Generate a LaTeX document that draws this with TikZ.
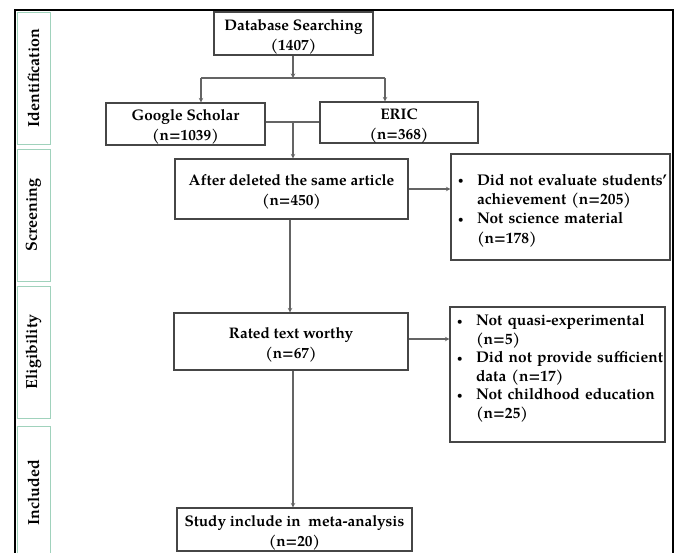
\documentclass[tikz,border=0pt]{standalone}
\usepackage{fontspec}
\setmainfont{texgyrepagella}[Extension=.otf, UprightFont=*-regular, BoldFont=*-bold]
\usetikzlibrary{arrows.meta}
\definecolor{sidegreen}{RGB}{160,210,188}
\definecolor{boxgray}{RGB}{70,70,70}
\definecolor{linegray}{RGB}{100,100,100}
\newcommand{\tstrut}{\rule{0pt}{17pt}}
\newcommand{\exclsetup}{\leftskip=7pt\relax\hyphenpenalty=10000\relax\hfuzz=20pt\relax\hbadness=10000\relax}
\newcommand{\bitem}[1]{\hangindent=19pt\hangafter=1\noindent\makebox[19pt][l]{\raisebox{1.2pt}{\small\textbullet}}#1\par}

\begin{document}
\begin{tikzpicture}[x=1pt, y=-1pt, >={Stealth[length=4.5pt,width=4.5pt]},
  stepbox/.style={draw=boxgray, line width=1.1pt, align=center, inner sep=0pt,
    font=\fontsize{15.3}{20}\selectfont\bfseries},
  exclbox/.style={draw=boxgray, line width=1.1pt, align=left, inner sep=0pt,
    font=\fontsize{15.5}{19.3}\selectfont\bfseries},
  phase/.style={draw=sidegreen, line width=0.9pt, minimum width=33pt, minimum height=132pt,
    inner sep=0pt, font=\fontsize{16}{18}\selectfont\bfseries},
  conn/.style={draw=linegray, line width=1.2pt}]
  \useasboundingbox (0,0) rectangle (676,553);
  \clip (0,0) rectangle (676,553);
  % outer frame
  \draw[line width=2pt] (15,580) -- (15,10) -- (673,10) -- (673,580);
  % phases
  \node[phase] (ident) at (33.5,78) {\rotatebox{90}{Identification}};
  \node[phase] (screen) at (33.5,215) {\rotatebox{90}{Screening}};
  \node[phase] (elig) at (33.5,352) {\rotatebox{90}{Eligibility}};
  \node[phase, minimum height=134pt] (incl) at (33.5,493) {\rotatebox{90}{Included}};
  % boxes
  \node[stepbox, minimum width=159pt, minimum height=43pt] (db) at (293.5,33.5) {\tstrut Database Searching\\(1407)};
  \node[stepbox, minimum width=159pt, minimum height=42pt] (gs) at (185.5,124) {\tstrut Google Scholar\\(n=1039)};
  \node[stepbox, minimum width=158pt, minimum height=41pt] (eric) at (399,122.5) {\tstrut ERIC\\(n=368)};
  \node[stepbox, minimum width=233pt, minimum height=60pt] (after) at (291.5,189) {\tstrut After deleted the same article\\(n=450)};
  \node[stepbox, minimum width=234pt, minimum height=57pt] (rated) at (291,341.5) {\tstrut Rated text worthy\\(n=67)};
  \node[stepbox, minimum width=235pt, minimum height=43pt] (study) at (294.5,529.5) {\tstrut Study include in\ \ meta-analysis\\(n=20)};
  \node[exclbox, text width=219pt, minimum height=106pt] (excl1) at (560.5,207) {\exclsetup
    \bitem{\rule{0pt}{18pt}Did not evaluate students’\newline achievement (n=205)}%
    \bitem{Not science material\newline (n=178)}};
  \node[exclbox, text width=215pt, minimum height=135pt,
    font=\fontsize{15.5}{18.6}\selectfont\bfseries] (excl2) at (557.5,374.5) {\exclsetup
    \bitem{Not quasi-experimental\newline (n=5)}%
    \bitem{Did not provide sufficient\newline data (n=17)}%
    \bitem{Not childhood education\newline (n=25)\rule[-16pt]{0pt}{16pt}}};
  % connectors
  \coordinate (split) at (293,78);
  \coordinate (splitL) at (201,78);
  \coordinate (splitR) at (385,78);
  \coordinate (merge) at (293,122);
  \draw[conn,->] (db.south -| split) -- (split);
  \draw[conn] (splitL) -- (splitR);
  \draw[conn,->] (splitL) -- (gs.north -| splitL);
  \draw[conn,->] (splitR) -- (eric.north -| splitR);
  \draw[conn] (gs.east |- merge) -- (eric.west |- merge);
  \draw[conn,->] (merge) -- (after.north -| merge);
  \draw[conn,->] (after.east |- 0,189) -- (excl1.west |- 0,189);
  \draw[conn,->] (after.south -| 290,0) -- (rated.north -| 290,0);
  \draw[conn,->] (rated.east |- 0,339) -- (excl2.west |- 0,339);
  \draw[conn,->] (rated.south -| 293,0) -- (study.north -| 293,0);
\end{tikzpicture}
\end{document}
